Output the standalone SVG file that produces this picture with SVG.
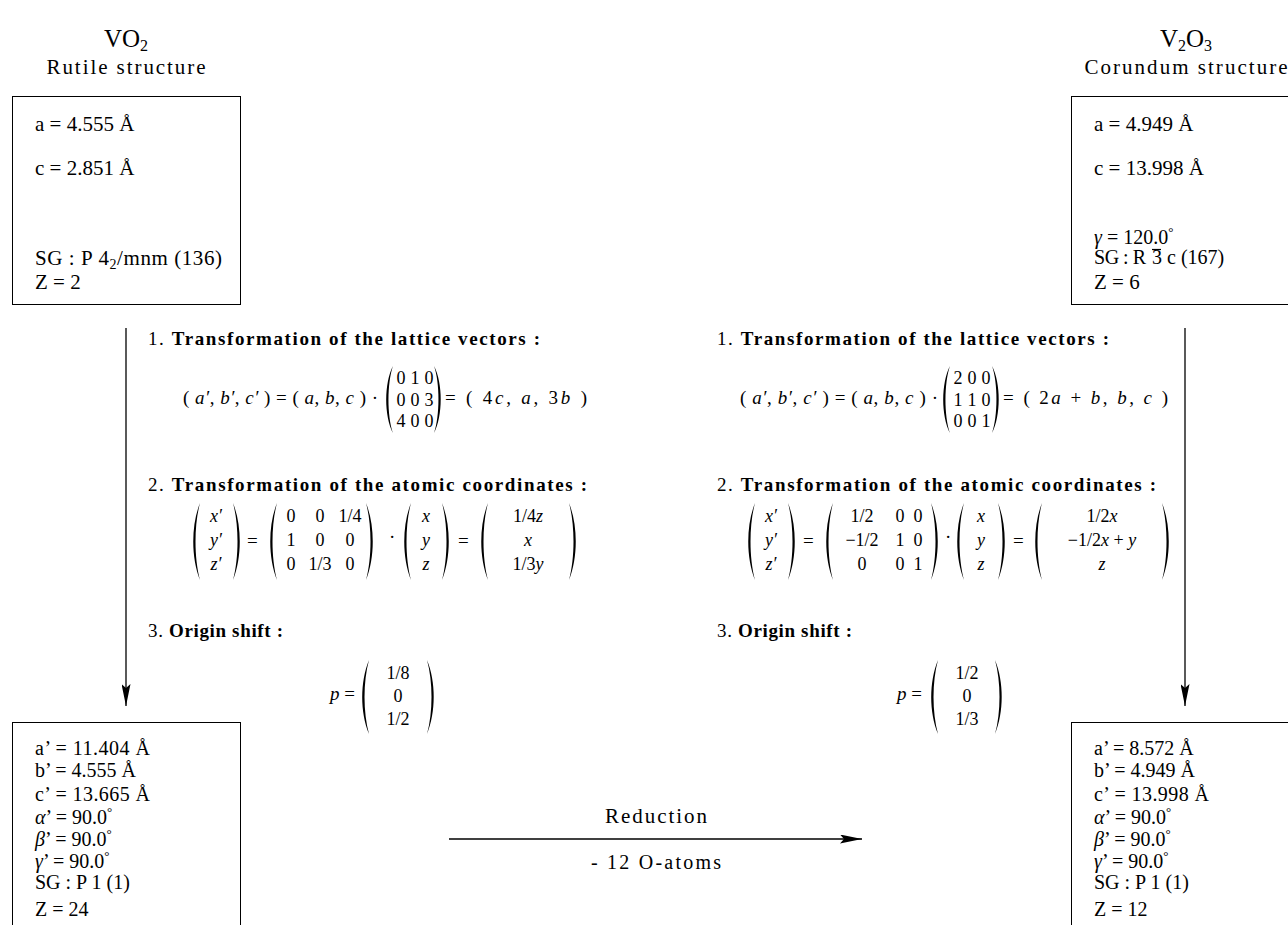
<svg xmlns="http://www.w3.org/2000/svg" width="1288" height="925" viewBox="0 0 1288 925">
<style>
text{font-family:"Liberation Serif","Times New Roman",serif;fill:#000}
.big{font-size:25px}
.sub{font-size:21px}
.box{font-size:21px}
.lst{font-size:20px}
.h{font-size:19px}
.hb{font-weight:bold}
.m{font-size:19px}
.mc{font-size:18px;text-anchor:middle}
.i{font-style:italic}
.node rect{fill:#fff;stroke:#000;stroke-width:1}
.par{fill:#000;stroke:none}
.conn line{stroke:#000;stroke-width:1.3}
</style>
<defs>
<marker id="ah" viewBox="0 0 22 9" refX="22" refY="4.5" markerWidth="22" markerHeight="9" markerUnits="userSpaceOnUse" orient="auto">
<path d="M0,0 L22,4.5 L0,9 L4,4.5 Z" fill="#000"/>
</marker>
</defs>
<rect width="1288" height="925" fill="#fff"/>

<!-- titles -->
<g id="title-vo2">
<text class="big" x="126" y="47" text-anchor="middle">VO<tspan font-size="16" dy="4">2</tspan></text>
<text class="sub" x="126" y="74" text-anchor="middle" textLength="159" lengthAdjust="spacing">Rutile structure</text>
</g>
<g id="title-v2o3">
<text class="big" x="1186" y="47" text-anchor="middle">V<tspan font-size="16" dy="4">2</tspan><tspan dy="-4">O</tspan><tspan font-size="16" dy="4">3</tspan></text>
<text class="sub" x="1186" y="74" text-anchor="middle" textLength="203" lengthAdjust="spacing">Corundum structure</text>
</g>

<!-- boxes -->
<g id="box-vo2" class="node">
<rect x="12.5" y="96.5" width="228" height="208"/>
<text class="box" x="35" y="131">a = 4.555 Å</text>
<text class="box" x="35" y="175">c = 2.851 Å</text>
<text class="box" x="35" y="265" textLength="187" lengthAdjust="spacing">SG : P 4<tspan font-size="14" dy="4">2</tspan><tspan dy="-4">/mnm (136)</tspan></text>
<text class="box" x="35" y="289">Z = 2</text>
</g>
<g id="box-v2o3" class="node">
<rect x="1071.5" y="96.5" width="230" height="208"/>
<text class="box" x="1094" y="131">a = 4.949 Å</text>
<text class="box" x="1094" y="175">c = 13.998 Å</text>
<text class="lst" x="1094" y="244"><tspan class="i">γ</tspan> = 120.0<tspan font-size="13" dy="-8">°</tspan></text>
<text class="lst" x="1094" y="264" textLength="52" lengthAdjust="spacing">SG : R</text>
<text class="lst" x="1152" y="264">3</text>
<line x1="1152" y1="249.5" x2="1161" y2="249.5" stroke="#000" stroke-width="1.2"/>
<text class="lst" x="1167" y="264">c (167)</text>
<text class="box" x="1094" y="289">Z = 6</text>
</g>
<g id="box-vo2-super" class="node">
<rect x="12.5" y="722.5" width="228" height="210"/>
<text class="lst" x="35" y="755" textLength="115" lengthAdjust="spacing">a’ = 11.404 Å</text>
<text class="lst" x="35" y="777">b’ = 4.555 Å</text>
<text class="lst" x="35" y="801" textLength="115" lengthAdjust="spacing">c’ = 13.665 Å</text>
<text class="lst" x="35" y="824"><tspan class="i">α</tspan>’ = 90.0<tspan font-size="13" dy="-8">°</tspan></text>
<text class="lst" x="35" y="846"><tspan class="i">β</tspan>’ = 90.0<tspan font-size="13" dy="-8">°</tspan></text>
<text class="lst" x="35" y="868"><tspan class="i">γ</tspan>’ = 90.0<tspan font-size="13" dy="-8">°</tspan></text>
<text class="lst" x="35" y="889">SG : P 1 (1)</text>
<text class="lst" x="35" y="916">Z = 24</text>
</g>
<g id="box-v2o3-super" class="node">
<rect x="1071.5" y="722.5" width="230" height="210"/>
<text class="lst" x="1094" y="755">a’ = 8.572 Å</text>
<text class="lst" x="1094" y="777">b’ = 4.949 Å</text>
<text class="lst" x="1094" y="801" textLength="115" lengthAdjust="spacing">c’ = 13.998 Å</text>
<text class="lst" x="1094" y="824"><tspan class="i">α</tspan>’ = 90.0<tspan font-size="13" dy="-8">°</tspan></text>
<text class="lst" x="1094" y="846"><tspan class="i">β</tspan>’ = 90.0<tspan font-size="13" dy="-8">°</tspan></text>
<text class="lst" x="1094" y="868"><tspan class="i">γ</tspan>’ = 90.0<tspan font-size="13" dy="-8">°</tspan></text>
<text class="lst" x="1094" y="889">SG : P 1 (1)</text>
<text class="lst" x="1094" y="916">Z = 12</text>
</g>

<!-- connectors -->
<g id="connectors" class="conn">
<line x1="126" y1="328" x2="126" y2="706" marker-end="url(#ah)"/>
<line x1="1185" y1="328" x2="1185" y2="706" marker-end="url(#ah)"/>
<line x1="449" y1="839" x2="862" y2="839" marker-end="url(#ah)"/>
</g>
<g id="reduction-label">
<text class="sub" x="656" y="823" text-anchor="middle" textLength="102" lengthAdjust="spacing">Reduction</text>
<text class="lst" x="656" y="869" text-anchor="middle" textLength="130" lengthAdjust="spacing">- 12 O-atoms</text>
</g>

<!-- LEFT transformations -->
<g id="left-transform">
<text class="h" x="148" y="345" textLength="392" lengthAdjust="spacing">1. <tspan class="hb">Transformation of the lattice vectors :</tspan></text>
<text class="m" x="183" y="404" textLength="195" lengthAdjust="spacing">( <tspan class="i">a′</tspan>, <tspan class="i">b′</tspan>, <tspan class="i">c′</tspan> ) = ( <tspan class="i">a</tspan>, <tspan class="i">b</tspan>, <tspan class="i">c</tspan> ) ·</text>
<path class="par" d="M393,366 C384,383 384,416 393,433 C387,416 387,383 393,366 Z"/>
<path class="par" d="M434,366 C443,383 443,416 434,433 C440,416 440,383 434,366 Z"/>
<text class="mc" x="401" y="384">0</text><text class="mc" x="415" y="384">1</text><text class="mc" x="429" y="384">0</text>
<text class="mc" x="401" y="406">0</text><text class="mc" x="415" y="406">0</text><text class="mc" x="429" y="406">3</text>
<text class="mc" x="401" y="427">4</text><text class="mc" x="415" y="427">0</text><text class="mc" x="429" y="427">0</text>
<text class="m" x="445" y="404" textLength="142" lengthAdjust="spacing">= ( 4<tspan class="i">c</tspan>, <tspan class="i">a</tspan>, 3<tspan class="i">b</tspan> )</text>

<text class="h" x="148" y="491" textLength="439" lengthAdjust="spacing">2. <tspan class="hb">Transformation of the atomic coordinates :</tspan></text>
<path class="par" d="M200,503 C191,525 191,558 200,580 C194,558 194,525 200,503 Z"/>
<path class="par" d="M233,503 C242,525 242,558 233,580 C239,558 239,525 233,503 Z"/>
<text class="mc i" x="216" y="522">x′</text><text class="mc i" x="216" y="546">y′</text><text class="mc i" x="216" y="570">z′</text>
<text class="m" x="247" y="547">=</text>
<path class="par" d="M277,503 C268,525 268,558 277,580 C271,558 271,525 277,503 Z"/>
<path class="par" d="M366,503 C375,525 375,558 366,580 C372,558 372,525 366,503 Z"/>
<text class="mc" x="291" y="522">0</text><text class="mc" x="320" y="522">0</text><text class="mc" x="350" y="522">1/4</text>
<text class="mc" x="291" y="546">1</text><text class="mc" x="320" y="546">0</text><text class="mc" x="350" y="546">0</text>
<text class="mc" x="291" y="570">0</text><text class="mc" x="320" y="570">1/3</text><text class="mc" x="350" y="570">0</text>
<text class="m" x="389" y="543">·</text>
<path class="par" d="M411,503 C402,525 402,558 411,580 C405,558 405,525 411,503 Z"/>
<path class="par" d="M442,503 C451,525 451,558 442,580 C448,558 448,525 442,503 Z"/>
<text class="mc i" x="426" y="522">x</text><text class="mc i" x="426" y="546">y</text><text class="mc i" x="426" y="570">z</text>
<text class="m" x="458" y="547">=</text>
<path class="par" d="M488,503 C479,525 479,558 488,580 C482,558 482,525 488,503 Z"/>
<path class="par" d="M569,503 C578,525 578,558 569,580 C575,558 575,525 569,503 Z"/>
<text class="mc" x="528" y="522">1/4<tspan class="i">z</tspan></text><text class="mc i" x="528" y="546">x</text><text class="mc" x="528" y="570">1/3<tspan class="i">y</tspan></text>

<text class="h" x="148" y="637" textLength="135" lengthAdjust="spacing">3. <tspan class="hb">Origin shift :</tspan></text>
<text class="m" x="330" y="700"><tspan class="i">p</tspan> =</text>
<path class="par" d="M369,660 C360,682 360,712 369,734 C363,712 363,682 369,660 Z"/>
<path class="par" d="M427,660 C436,682 436,712 427,734 C433,712 433,682 427,660 Z"/>
<text class="mc" x="398" y="679">1/8</text><text class="mc" x="398" y="702">0</text><text class="mc" x="398" y="725">1/2</text>
</g>

<!-- RIGHT transformations -->
<g id="right-transform">
<text class="h" x="717" y="345" textLength="392" lengthAdjust="spacing">1. <tspan class="hb">Transformation of the lattice vectors :</tspan></text>
<text class="m" x="740" y="404" textLength="198" lengthAdjust="spacing">( <tspan class="i">a′</tspan>, <tspan class="i">b′</tspan>, <tspan class="i">c′</tspan> ) = ( <tspan class="i">a</tspan>, <tspan class="i">b</tspan>, <tspan class="i">c</tspan> ) ·</text>
<path class="par" d="M950,366 C941,383 941,416 950,433 C944,416 944,383 950,366 Z"/>
<path class="par" d="M992,366 C1001,383 1001,416 992,433 C998,416 998,383 992,366 Z"/>
<text class="mc" x="958" y="384">2</text><text class="mc" x="972" y="384">0</text><text class="mc" x="986" y="384">0</text>
<text class="mc" x="958" y="406">1</text><text class="mc" x="972" y="406">1</text><text class="mc" x="986" y="406">0</text>
<text class="mc" x="958" y="427">0</text><text class="mc" x="972" y="427">0</text><text class="mc" x="986" y="427">1</text>
<text class="m" x="1003" y="404" textLength="165" lengthAdjust="spacing">= ( 2<tspan class="i">a</tspan> + <tspan class="i">b</tspan>, <tspan class="i">b</tspan>, <tspan class="i">c</tspan> )</text>

<text class="h" x="717" y="491" textLength="439" lengthAdjust="spacing">2. <tspan class="hb">Transformation of the atomic coordinates :</tspan></text>
<path class="par" d="M755,503 C746,525 746,558 755,580 C749,558 749,525 755,503 Z"/>
<path class="par" d="M788,503 C797,525 797,558 788,580 C794,558 794,525 788,503 Z"/>
<text class="mc i" x="771" y="522">x′</text><text class="mc i" x="771" y="546">y′</text><text class="mc i" x="771" y="570">z′</text>
<text class="m" x="803" y="547">=</text>
<path class="par" d="M833,503 C824,525 824,558 833,580 C827,558 827,525 833,503 Z"/>
<path class="par" d="M931,503 C940,525 940,558 931,580 C937,558 937,525 931,503 Z"/>
<text class="mc" x="862" y="522">1/2</text><text class="mc" x="900" y="522">0</text><text class="mc" x="918" y="522">0</text>
<text class="mc" x="862" y="546">−1/2</text><text class="mc" x="900" y="546">1</text><text class="mc" x="918" y="546">0</text>
<text class="mc" x="862" y="570">0</text><text class="mc" x="900" y="570">0</text><text class="mc" x="918" y="570">1</text>
<text class="m" x="945" y="543">·</text>
<path class="par" d="M964,503 C955,525 955,558 964,580 C958,558 958,525 964,503 Z"/>
<path class="par" d="M998,503 C1007,525 1007,558 998,580 C1004,558 1004,525 998,503 Z"/>
<text class="mc i" x="981" y="522">x</text><text class="mc i" x="981" y="546">y</text><text class="mc i" x="981" y="570">z</text>
<text class="m" x="1013" y="547">=</text>
<path class="par" d="M1042,503 C1033,525 1033,558 1042,580 C1036,558 1036,525 1042,503 Z"/>
<path class="par" d="M1162,503 C1171,525 1171,558 1162,580 C1168,558 1168,525 1162,503 Z"/>
<text class="mc" x="1102" y="522">1/2<tspan class="i">x</tspan></text><text class="mc" x="1102" y="546">−1/2<tspan class="i">x</tspan> + <tspan class="i">y</tspan></text><text class="mc i" x="1102" y="570">z</text>

<text class="h" x="717" y="637" textLength="135" lengthAdjust="spacing">3. <tspan class="hb">Origin shift :</tspan></text>
<text class="m" x="897" y="700"><tspan class="i">p</tspan> =</text>
<path class="par" d="M938,660 C929,682 929,712 938,734 C932,712 932,682 938,660 Z"/>
<path class="par" d="M995,660 C1004,682 1004,712 995,734 C1001,712 1001,682 995,660 Z"/>
<text class="mc" x="967" y="679">1/2</text><text class="mc" x="967" y="702">0</text><text class="mc" x="967" y="725">1/3</text>
</g>
</svg>
